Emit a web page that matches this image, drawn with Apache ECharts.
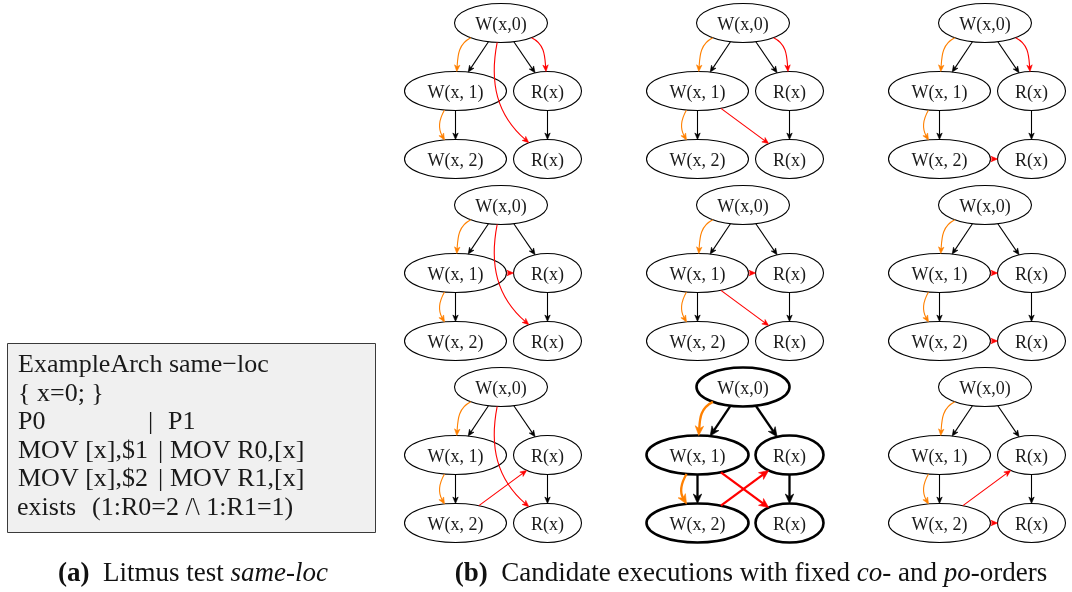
<!DOCTYPE html>
<html>
<head>
<meta charset="utf-8">
<script src="https://cdn.jsdelivr.net/npm/echarts@6.0.0/dist/echarts.min.js"></script>
<style>
html,body{margin:0;padding:0;background:#ffffff;}
#chart{width:1072px;height:592px;}
</style>
</head>
<body>
<div id="chart"></div>
<script>
// ================= DATA =================
// event nodes of every candidate execution
const nodeLabels = ['W(x,0)', 'W(x, 1)', 'R(x)', 'W(x, 2)', 'R(x)'];
// program-order / dependency edges (black), same in every execution
const poEdges = [[0, 1], [0, 2], [1, 3], [2, 4]];
// coherence-order edges (orange), fixed
const coEdges = [[0, 1], [1, 3]];
// reads-from sources per execution: [source of R(x) #1 (node 2), source of R(x) #2 (node 4)]
const rfSources = [
  [0, 0], [0, 1], [0, 3],
  [1, 0], [1, 1], [1, 3],
  [3, 0], [3, 1], [3, 3]
];
const highlightedExecution = 7;

// litmus test listing, split in its columns
const litmusLines = [
  ['ExampleArch same\u2212loc'],
  ['{ x=0; }'],
  ['P0', '|', 'P1'],
  ['MOV [x],$1', '|', 'MOV R0,[x]'],
  ['MOV [x],$2', '|', 'MOV R1,[x]'],
  ['exists', '(1:R0=2 /\\ 1:R1=1)']
];
// captions (rich text: b = bold label, i = italic)
const captions = [
  '{b|(a)}  Litmus test {i|same-loc}',
  '{b|(b)}  Candidate executions with fixed {i|co}- and {i|po}-orders'
];

// ================= LAYOUT / STYLE =================
const L = {
  panelX0: 501, panelY0: 23, panelDX: 242, panelDY: 182,
  nodeDX: [0, -45.5, 46.5, -45.5, 46.5],
  nodeDY: [0, 68, 68, 136, 136],
  nodeRX: [46.5, 51, 34, 51, 34],
  nodeRY: 19.5,
  labelDY: 2,
  frame: [7.5, 343.5, 375.5, 532.5],
  litmusColX: [[18], [18], [18, 148, 168], [18, 158, 170], [18, 158, 170], [17, 92]],
  litmusBase: 374, litmusStep: 28.6, litmusFont: 26,
  capY: 574, capFont: 27, capCX: [193, 751],
  serif: '"Liberation Serif", "Times New Roman", serif'
};
const COLORS = {po: '#000000', co: '#ff8000', rf: '#ff0000'};

function nodeCenter(p, i) {
  const col = p % 3, row = Math.floor(p / 3);
  return [L.panelX0 + col * L.panelDX + L.nodeDX[i], L.panelY0 + row * L.panelDY + L.nodeDY[i]];
}

// ================= SERIES DATA =================
const nodeData = [];
for (let p = 0; p < rfSources.length; p++) {
  for (let i = 0; i < nodeLabels.length; i++) {
    const c = nodeCenter(p, i);
    nodeData.push([c[0], c[1], p, i]);
  }
}
// edge: [x, y, panel, from, to, kind] ; kind 0 = po, 1 = co, 2 = rf
const edgeData = [];
for (let p = 0; p < rfSources.length; p++) {
  poEdges.forEach(e => { const c = nodeCenter(p, e[0]); edgeData.push([c[0], c[1], p, e[0], e[1], 0]); });
  coEdges.forEach(e => { const c = nodeCenter(p, e[0]); edgeData.push([c[0], c[1], p, e[0], e[1], 1]); });
  const rf = rfSources[p];
  [[rf[0], 2], [rf[1], 4]].forEach(e => { const c = nodeCenter(p, e[0]); edgeData.push([c[0], c[1], p, e[0], e[1], 2]); });
}
const litmusData = [];
litmusLines.forEach((line, li) => line.forEach((seg, si) => {
  litmusData.push([L.litmusColX[li][si], L.litmusBase + li * L.litmusStep - 0.3375 * L.litmusFont, li, si]);
}));
const captionData = captions.map((c, i) => [L.capCX[i], L.capY, i]);

// ================= GEOMETRY HELPERS =================
function ellipsePoint(c, rx, ry, ang) {
  const dx = Math.cos(ang), dy = Math.sin(ang);
  const t = 1 / Math.sqrt((dx / rx) * (dx / rx) + (dy / ry) * (dy / ry));
  return [c[0] + dx * t, c[1] + dy * t];
}
function bendFor(kind, from, to) {
  if (kind === 1) return 30;
  if (kind === 2 && from === 0 && to === 2) return -30;
  if (kind === 2 && from === 0 && to === 4) return 30;
  return 0;
}

// ================= RENDERERS =================
function renderNode(params, api) {
  const p = api.value(2), i = api.value(3);
  const hl = p === highlightedExecution;
  const c = api.coord([api.value(0), api.value(1)]);
  const r = api.size([L.nodeRX[i], L.nodeRY]);
  return {
    type: 'group',
    children: [
      {type: 'ellipse', shape: {cx: c[0], cy: c[1], rx: r[0], ry: r[1]},
       style: {fill: '#ffffff', stroke: '#000000', lineWidth: hl ? 2.6 : 1.1}},
      {type: 'text', x: c[0], y: c[1] + L.labelDY,
       style: {text: nodeLabels[i], fill: '#1a1a1a', fontSize: 18, fontFamily: L.serif,
               align: 'center', verticalAlign: 'middle'}}
    ]
  };
}

function renderEdge(params, api) {
  const p = api.value(2), f = api.value(3), t = api.value(4), k = api.value(5);
  const hl = p === highlightedExecution;
  const color = k === 0 ? COLORS.po : (k === 1 ? COLORS.co : COLORS.rf);
  const A = api.coord(nodeCenter(p, f)), B = api.coord(nodeCenter(p, t));
  const rA = api.size([L.nodeRX[f], L.nodeRY]), rB = api.size([L.nodeRX[t], L.nodeRY]);
  const bend = bendFor(k, f, t) * Math.PI / 180;
  const dir = Math.atan2(B[1] - A[1], B[0] - A[0]);
  const outA = dir + bend, inA = dir - bend;
  const s = ellipsePoint(A, rA[0], rA[1], outA);
  const e = ellipsePoint(B, rB[0], rB[1], inA + Math.PI);
  const ux = Math.cos(inA), uy = Math.sin(inA);
  const aLen = hl ? 9.5 : 6.5, aW = hl ? 4.2 : 2.7;
  const lw = hl ? 2.3 : 1.1;
  const back = aLen * 0.7;
  const eS = [e[0] - ux * back, e[1] - uy * back];
  let line;
  if (bend === 0) {
    line = {type: 'line', shape: {x1: s[0], y1: s[1], x2: eS[0], y2: eS[1]},
            style: {stroke: color, lineWidth: lw, fill: null}};
  } else {
    const d = Math.hypot(e[0] - s[0], e[1] - s[1]) * 0.3915;
    line = {type: 'bezierCurve', shape: {
              x1: s[0], y1: s[1],
              cpx1: s[0] + Math.cos(outA) * d, cpy1: s[1] + Math.sin(outA) * d,
              cpx2: e[0] - ux * d - ux * back * 0.3, cpy2: e[1] - uy * d - uy * back * 0.3,
              x2: eS[0], y2: eS[1]},
            style: {stroke: color, lineWidth: lw, fill: null}};
  }
  const nx = -uy, ny = ux;
  const head = {type: 'polygon', shape: {points: [
      [e[0], e[1]],
      [e[0] - ux * aLen + nx * aW, e[1] - uy * aLen + ny * aW],
      [e[0] - ux * aLen * 0.72, e[1] - uy * aLen * 0.72],
      [e[0] - ux * aLen - nx * aW, e[1] - uy * aLen - ny * aW]
    ]}, style: {fill: color, stroke: color, lineWidth: 0.6}};
  return {type: 'group', children: [line, head]};
}

function renderFrame(params, api) {
  const a = api.coord([L.frame[0], L.frame[1]]);
  const b = api.coord([L.frame[2], L.frame[3]]);
  return {type: 'rect', shape: {x: a[0], y: a[1], width: b[0] - a[0], height: b[1] - a[1]},
          style: {fill: '#f0f0f0', stroke: '#3a3a3a', lineWidth: 1}};
}

function renderLitmus(params, api) {
  const c = api.coord([api.value(0), api.value(1)]);
  const text = litmusLines[api.value(2)][api.value(3)];
  return {type: 'text', x: c[0], y: c[1],
          style: {text: text, fill: '#1a1a1a', fontSize: L.litmusFont, fontFamily: L.serif,
                  align: 'left', verticalAlign: 'middle'}};
}

function renderCaption(params, api) {
  const c = api.coord([api.value(0), api.value(1)]);
  const fs = L.capFont;
  return {type: 'text', x: c[0], y: c[1],
          style: {text: captions[api.value(2)], fill: '#111111', fontSize: fs, fontFamily: L.serif,
                  align: 'center', verticalAlign: 'middle',
                  rich: {
                    b: {fontWeight: 'bold', fontSize: fs, fontFamily: L.serif, fill: '#111111'},
                    i: {fontStyle: 'italic', fontSize: fs, fontFamily: L.serif, fill: '#111111'}
                  }}};
}

const chart = echarts.init(document.getElementById('chart'), null, {renderer: 'canvas'});
chart.setOption({
  animation: false,
  backgroundColor: '#ffffff',
  grid: {left: 0, right: 0, top: 0, bottom: 0},
  xAxis: {type: 'value', min: 0, max: 1072, show: false},
  yAxis: {type: 'value', min: 0, max: 592, inverse: true, show: false},
  series: [
    {type: 'custom', name: 'frame', coordinateSystem: 'cartesian2d', z: 1, silent: true,
     data: [[L.frame[0], L.frame[1]]], renderItem: renderFrame},
    {type: 'custom', name: 'litmus', coordinateSystem: 'cartesian2d', z: 2, silent: true,
     data: litmusData, renderItem: renderLitmus},
    {type: 'custom', name: 'captions', coordinateSystem: 'cartesian2d', z: 2, silent: true,
     data: captionData, renderItem: renderCaption},
    {type: 'custom', name: 'events', coordinateSystem: 'cartesian2d', z: 3, silent: true,
     data: nodeData, renderItem: renderNode},
    {type: 'custom', name: 'relations', coordinateSystem: 'cartesian2d', z: 4, silent: true,
     data: edgeData, renderItem: renderEdge}
  ]
});
</script>
</body>
</html>
